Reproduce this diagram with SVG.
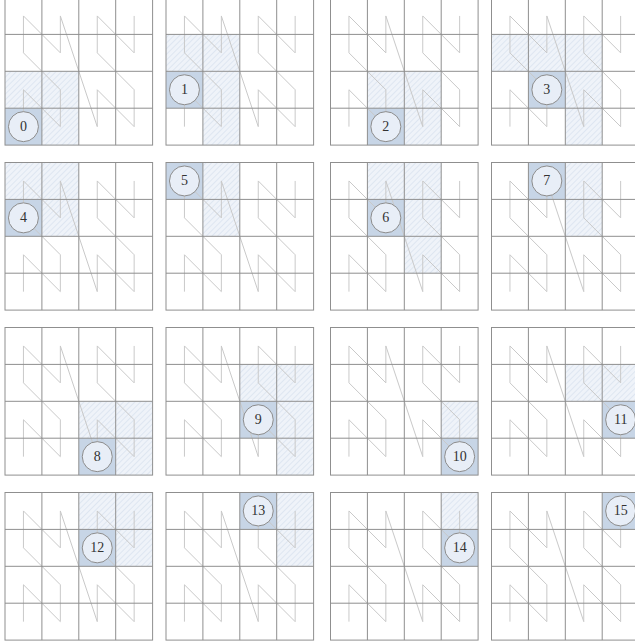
<svg xmlns="http://www.w3.org/2000/svg" xmlns:xlink="http://www.w3.org/1999/xlink" width="635" height="642" viewBox="0 0 635 642">
<style>
.bg{fill:#ffffff}
.hatch{fill:url(#hatch)}
.cur{fill:#c7d5e6}
.grid{fill:none;stroke:#8f8f8f;stroke-width:1}
.curve{fill:none;stroke:#c9c9c9;stroke-width:1}
.node circle{fill:#e8eef7;stroke:#8c8c8c;stroke-width:1}
.node text{font-family:"Liberation Serif","Times New Roman",serif;font-size:14px;fill:#333333;text-anchor:middle;dominant-baseline:central}
</style>
<defs>
<pattern id="hatch" patternUnits="userSpaceOnUse" width="4" height="4" patternTransform="rotate(45)">
<rect width="4" height="4" fill="#eff3f9"/>
<line x1="0" y1="0" x2="0" y2="4" stroke="#d3deec" stroke-width="1.2"/>
</pattern>
<g id="grid">
<rect class="grid" x="0" y="0" width="147.6" height="147.6"/>
<path class="grid" d="M36.9 0V147.6M73.8 0V147.6M110.7 0V147.6M0 36.9H147.6M0 73.8H147.6M0 110.7H147.6"/>
</g>
<polyline id="curve" class="curve" points="18.45,129.15 18.45,92.25 55.35,129.15 55.35,92.25 18.45,55.35 18.45,18.45 55.35,55.35 55.35,18.45 92.25,129.15 92.25,92.25 129.15,129.15 129.15,92.25 92.25,55.35 92.25,18.45 129.15,55.35 129.15,18.45"/>
</defs>
<rect class="bg" x="0" y="0" width="635" height="642"/>

<g id="panel-0" transform="translate(5,-2.5)">
<rect class="hatch" x="0" y="73.8" width="36.9" height="36.9"/><rect class="hatch" x="36.9" y="73.8" width="36.9" height="36.9"/><rect class="hatch" x="36.9" y="110.7" width="36.9" height="36.9"/>
<rect class="cur" x="0" y="110.7" width="36.9" height="36.9"/>
<use xlink:href="#curve"/><use xlink:href="#grid"/>
<g id="node-0" class="node"><circle cx="18.45" cy="129.15" r="15"/><text x="18.45" y="129.15">0</text></g>
</g>

<g id="panel-1" transform="translate(166,-2.5)">
<rect class="hatch" x="36.9" y="110.7" width="36.9" height="36.9"/><rect class="hatch" x="36.9" y="73.8" width="36.9" height="36.9"/><rect class="hatch" x="0" y="36.9" width="36.9" height="36.9"/><rect class="hatch" x="36.9" y="36.9" width="36.9" height="36.9"/>
<rect class="cur" x="0" y="73.8" width="36.9" height="36.9"/>
<use xlink:href="#curve"/><use xlink:href="#grid"/>
<g id="node-1" class="node"><circle cx="18.45" cy="92.25" r="15"/><text x="18.45" y="92.25">1</text></g>
</g>

<g id="panel-2" transform="translate(330.5,-2.5)">
<rect class="hatch" x="36.9" y="73.8" width="36.9" height="36.9"/><rect class="hatch" x="73.8" y="73.8" width="36.9" height="36.9"/><rect class="hatch" x="73.8" y="110.7" width="36.9" height="36.9"/>
<rect class="cur" x="36.9" y="110.7" width="36.9" height="36.9"/>
<use xlink:href="#curve"/><use xlink:href="#grid"/>
<g id="node-2" class="node"><circle cx="55.35" cy="129.15" r="15"/><text x="55.35" y="129.15">2</text></g>
</g>

<g id="panel-3" transform="translate(491.5,-2.5)">
<rect class="hatch" x="73.8" y="110.7" width="36.9" height="36.9"/><rect class="hatch" x="73.8" y="73.8" width="36.9" height="36.9"/><rect class="hatch" x="0" y="36.9" width="36.9" height="36.9"/><rect class="hatch" x="36.9" y="36.9" width="36.9" height="36.9"/><rect class="hatch" x="73.8" y="36.9" width="36.9" height="36.9"/>
<rect class="cur" x="36.9" y="73.8" width="36.9" height="36.9"/>
<use xlink:href="#curve"/><use xlink:href="#grid"/>
<g id="node-3" class="node"><circle cx="55.35" cy="92.25" r="15"/><text x="55.35" y="92.25">3</text></g>
</g>

<g id="panel-4" transform="translate(5,162.5)">
<rect class="hatch" x="0" y="0" width="36.9" height="36.9"/><rect class="hatch" x="36.9" y="0" width="36.9" height="36.9"/><rect class="hatch" x="36.9" y="36.9" width="36.9" height="36.9"/>
<rect class="cur" x="0" y="36.9" width="36.9" height="36.9"/>
<use xlink:href="#curve"/><use xlink:href="#grid"/>
<g id="node-4" class="node"><circle cx="18.45" cy="55.35" r="15"/><text x="18.45" y="55.35">4</text></g>
</g>

<g id="panel-5" transform="translate(166,162.5)">
<rect class="hatch" x="36.9" y="0" width="36.9" height="36.9"/><rect class="hatch" x="36.9" y="36.9" width="36.9" height="36.9"/>
<rect class="cur" x="0" y="0" width="36.9" height="36.9"/>
<use xlink:href="#curve"/><use xlink:href="#grid"/>
<g id="node-5" class="node"><circle cx="18.45" cy="18.45" r="15"/><text x="18.45" y="18.45">5</text></g>
</g>

<g id="panel-6" transform="translate(330.5,162.5)">
<rect class="hatch" x="36.9" y="0" width="36.9" height="36.9"/><rect class="hatch" x="73.8" y="0" width="36.9" height="36.9"/><rect class="hatch" x="73.8" y="36.9" width="36.9" height="36.9"/><rect class="hatch" x="73.8" y="73.8" width="36.9" height="36.9"/>
<rect class="cur" x="36.9" y="36.9" width="36.9" height="36.9"/>
<use xlink:href="#curve"/><use xlink:href="#grid"/>
<g id="node-6" class="node"><circle cx="55.35" cy="55.35" r="15"/><text x="55.35" y="55.35">6</text></g>
</g>

<g id="panel-7" transform="translate(491.5,162.5)">
<rect class="hatch" x="73.8" y="0" width="36.9" height="36.9"/><rect class="hatch" x="73.8" y="36.9" width="36.9" height="36.9"/>
<rect class="cur" x="36.9" y="0" width="36.9" height="36.9"/>
<use xlink:href="#curve"/><use xlink:href="#grid"/>
<g id="node-7" class="node"><circle cx="55.35" cy="18.45" r="15"/><text x="55.35" y="18.45">7</text></g>
</g>

<g id="panel-8" transform="translate(5,327.5)">
<rect class="hatch" x="73.8" y="73.8" width="36.9" height="36.9"/><rect class="hatch" x="110.7" y="73.8" width="36.9" height="36.9"/><rect class="hatch" x="110.7" y="110.7" width="36.9" height="36.9"/>
<rect class="cur" x="73.8" y="110.7" width="36.9" height="36.9"/>
<use xlink:href="#curve"/><use xlink:href="#grid"/>
<g id="node-8" class="node"><circle cx="92.25" cy="129.15" r="15"/><text x="92.25" y="129.15">8</text></g>
</g>

<g id="panel-9" transform="translate(166,327.5)">
<rect class="hatch" x="73.8" y="36.9" width="36.9" height="36.9"/><rect class="hatch" x="110.7" y="36.9" width="36.9" height="36.9"/><rect class="hatch" x="110.7" y="73.8" width="36.9" height="36.9"/><rect class="hatch" x="110.7" y="110.7" width="36.9" height="36.9"/>
<rect class="cur" x="73.8" y="73.8" width="36.9" height="36.9"/>
<use xlink:href="#curve"/><use xlink:href="#grid"/>
<g id="node-9" class="node"><circle cx="92.25" cy="92.25" r="15"/><text x="92.25" y="92.25">9</text></g>
</g>

<g id="panel-10" transform="translate(330.5,327.5)">
<rect class="hatch" x="110.7" y="73.8" width="36.9" height="36.9"/>
<rect class="cur" x="110.7" y="110.7" width="36.9" height="36.9"/>
<use xlink:href="#curve"/><use xlink:href="#grid"/>
<g id="node-10" class="node"><circle cx="129.15" cy="129.15" r="15"/><text x="129.15" y="129.15">10</text></g>
</g>

<g id="panel-11" transform="translate(491.5,327.5)">
<rect class="hatch" x="73.8" y="36.9" width="36.9" height="36.9"/><rect class="hatch" x="110.7" y="36.9" width="36.9" height="36.9"/>
<rect class="cur" x="110.7" y="73.8" width="36.9" height="36.9"/>
<use xlink:href="#curve"/><use xlink:href="#grid"/>
<g id="node-11" class="node"><circle cx="129.15" cy="92.25" r="15"/><text x="129.15" y="92.25">11</text></g>
</g>

<g id="panel-12" transform="translate(5,492.5)">
<rect class="hatch" x="73.8" y="0" width="36.9" height="36.9"/><rect class="hatch" x="110.7" y="0" width="36.9" height="36.9"/><rect class="hatch" x="110.7" y="36.9" width="36.9" height="36.9"/>
<rect class="cur" x="73.8" y="36.9" width="36.9" height="36.9"/>
<use xlink:href="#curve"/><use xlink:href="#grid"/>
<g id="node-12" class="node"><circle cx="92.25" cy="55.35" r="15"/><text x="92.25" y="55.35">12</text></g>
</g>

<g id="panel-13" transform="translate(166,492.5)">
<rect class="hatch" x="110.7" y="0" width="36.9" height="36.9"/><rect class="hatch" x="110.7" y="36.9" width="36.9" height="36.9"/>
<rect class="cur" x="73.8" y="0" width="36.9" height="36.9"/>
<use xlink:href="#curve"/><use xlink:href="#grid"/>
<g id="node-13" class="node"><circle cx="92.25" cy="18.45" r="15"/><text x="92.25" y="18.45">13</text></g>
</g>

<g id="panel-14" transform="translate(330.5,492.5)">
<rect class="hatch" x="110.7" y="0" width="36.9" height="36.9"/>
<rect class="cur" x="110.7" y="36.9" width="36.9" height="36.9"/>
<use xlink:href="#curve"/><use xlink:href="#grid"/>
<g id="node-14" class="node"><circle cx="129.15" cy="55.35" r="15"/><text x="129.15" y="55.35">14</text></g>
</g>

<g id="panel-15" transform="translate(491.5,492.5)">
<rect class="cur" x="110.7" y="0" width="36.9" height="36.9"/>
<use xlink:href="#curve"/><use xlink:href="#grid"/>
<g id="node-15" class="node"><circle cx="129.15" cy="18.45" r="15"/><text x="129.15" y="18.45">15</text></g>
</g>
</svg>
